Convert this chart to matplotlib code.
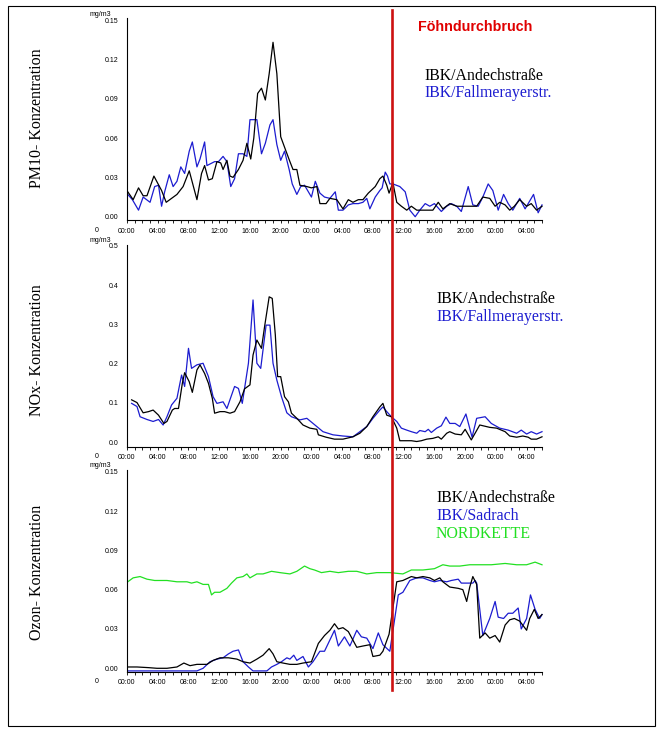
import matplotlib
matplotlib.use('Agg')
import matplotlib.pyplot as plt
import matplotlib.transforms as mtransforms
from matplotlib.patches import Rectangle
from matplotlib.lines import Line2D
import numpy as np

# time axis in hours from 00:00 of day 1
HOURS_MAX = 54
FOEHN_HOUR = 34.5

# ---- PM10 ----
pm_and_t = [0.1, 0.8, 1.5, 2.1, 2.6, 3.5, 4.5, 5.1, 5.8, 6.5, 7.3, 8.1, 9.1, 9.7, 10.1,
            10.6, 11.1, 11.7, 12.2, 12.5, 13.0, 13.4, 13.8, 14.5, 15.1, 15.6, 16.1, 16.5, 17.0, 17.5,
            18.0, 18.5, 19.0, 19.5, 20.0, 20.5, 21.2, 21.6, 22.1, 22.5, 23.4, 24.0, 24.7, 25.1, 25.9,
            26.4, 27.3, 28.1, 28.8, 29.4, 30.1, 30.7, 31.4, 32.3, 32.9, 33.3, 33.8, 34.1,
            34.6, 35.1, 35.7, 36.4, 37.0, 37.7, 38.5, 39.4, 39.8, 40.5, 41.1, 42.0, 42.9, 43.7, 44.6,
            45.5, 46.3, 47.2, 47.9, 48.5, 49.2, 49.8, 50.4, 51.1, 52.0, 52.6, 53.3, 54.0]
pm_and_v = [0.019, 0.013, 0.022, 0.016, 0.016, 0.031, 0.020, 0.011, 0.014, 0.017, 0.023, 0.035, 0.013, 0.033, 0.039,
            0.028, 0.029, 0.042, 0.041, 0.036, 0.043, 0.031, 0.030, 0.036, 0.043, 0.056, 0.044, 0.060, 0.094, 0.098,
            0.089, 0.109, 0.133, 0.109, 0.061, 0.053, 0.042, 0.036, 0.036, 0.024, 0.023, 0.022, 0.023, 0.010, 0.010,
            0.014, 0.013, 0.006, 0.013, 0.011, 0.013, 0.013, 0.018, 0.023, 0.029, 0.031, 0.024, 0.018,
            0.026, 0.011, 0.008, 0.005, 0.008, 0.005, 0.005, 0.005, 0.005, 0.011, 0.006, 0.010, 0.008, 0.008, 0.008,
            0.008, 0.015, 0.014, 0.008, 0.011, 0.009, 0.005, 0.008, 0.013, 0.008, 0.010, 0.005, 0.008]

pm_fal_t = [0.1, 0.7, 1.5, 2.1, 3.0, 3.6, 4.1, 4.5, 4.9, 5.5, 6.0, 6.5, 7.0, 7.5, 8.1,
            8.5, 9.1, 9.5, 10.1, 10.4, 11.4, 11.9, 12.5, 13.0, 13.5, 14.0, 14.5, 15.1, 15.6, 16.0,
            16.9, 17.5, 18.0, 18.6, 19.0, 19.5, 20.0, 20.5, 21.1, 21.5, 22.1, 22.6, 23.1, 23.6, 24.0,
            24.5, 25.1, 25.7, 26.4, 27.1, 27.5, 28.1, 28.8, 29.4, 30.1, 30.7, 31.2, 31.6, 32.3, 32.9,
            33.2, 33.6, 33.9, 34.2, 34.6, 35.5, 36.2, 36.8, 37.5, 38.1, 38.8, 39.4, 40.0, 40.9, 41.6,
            42.2, 42.9, 43.5, 44.4, 45.0, 45.7, 46.3, 47.0, 47.6, 48.3, 49.0, 49.6, 50.2, 51.1, 51.8,
            52.9, 53.5, 54.0]
pm_fal_v = [0.017, 0.013, 0.005, 0.015, 0.011, 0.023, 0.024, 0.008, 0.019, 0.032, 0.023, 0.027, 0.038, 0.033, 0.050,
            0.057, 0.038, 0.044, 0.057, 0.039, 0.042, 0.042, 0.046, 0.042, 0.023, 0.029, 0.048, 0.048, 0.046, 0.074,
            0.074, 0.048, 0.056, 0.070, 0.074, 0.055, 0.043, 0.050, 0.036, 0.025, 0.017, 0.023, 0.024, 0.019, 0.015,
            0.027, 0.018, 0.015, 0.014, 0.019, 0.005, 0.005, 0.009, 0.010, 0.010, 0.011, 0.014, 0.006, 0.015, 0.020,
            0.022, 0.034, 0.031, 0.025, 0.025, 0.023, 0.019, 0.005, 0.000, 0.005, 0.010, 0.008, 0.010, 0.004, 0.008,
            0.010, 0.008, 0.004, 0.023, 0.009, 0.008, 0.015, 0.025, 0.020, 0.005, 0.017, 0.010, 0.005, 0.014, 0.006,
            0.017, 0.003, 0.009]

# ---- NOx ----
nox_and_t = [0.6, 1.3, 2.1, 2.8, 3.4, 4.1, 4.8, 5.2, 5.9, 6.2, 6.7, 7.2, 7.5, 8.1, 8.5,
             9.1, 9.5, 10.1, 10.6, 11.1, 11.4, 12.1, 12.7, 13.4, 14.0, 14.7, 15.3, 16.0, 16.4, 16.9,
             17.5, 17.9, 18.5, 18.9, 19.3, 19.6, 20.0, 20.5, 21.0, 21.4, 22.1, 22.9, 23.8, 24.7, 24.9,
             25.9, 27.0, 28.1, 29.4, 30.3, 31.2, 32.0, 32.9, 33.3, 33.8, 34.4, 35.1, 35.5, 36.4, 37.0,
             37.7, 38.3, 39.0, 39.8, 40.5, 40.9, 41.6, 42.0, 42.7, 43.5, 44.0, 44.8, 45.9, 47.2, 48.1,
             49.2, 49.8, 50.7, 51.5, 52.2, 52.6, 53.3, 54.0]
nox_and_v = [0.108, 0.101, 0.075, 0.078, 0.082, 0.069, 0.048, 0.053, 0.082, 0.086, 0.086, 0.150, 0.177, 0.154, 0.127,
             0.184, 0.197, 0.175, 0.150, 0.112, 0.074, 0.078, 0.078, 0.074, 0.078, 0.103, 0.136, 0.146, 0.222, 0.260,
             0.239, 0.294, 0.370, 0.366, 0.273, 0.167, 0.167, 0.116, 0.103, 0.074, 0.061, 0.044, 0.036, 0.033, 0.019,
             0.013, 0.008, 0.008, 0.014, 0.023, 0.040, 0.065, 0.090, 0.099, 0.069, 0.065, 0.036, 0.004, 0.004, 0.004,
             0.002, 0.004, 0.008, 0.010, 0.014, 0.008, 0.023, 0.027, 0.021, 0.019, 0.033, 0.006, 0.044, 0.038, 0.036,
             0.027, 0.016, 0.013, 0.016, 0.013, 0.008, 0.008, 0.014]

nox_fal_t = [0.6, 1.3, 1.7, 2.6, 3.4, 4.1, 4.7, 5.2, 5.8, 6.5, 7.1, 7.5, 8.0, 8.4, 9.1,
             9.9, 10.6, 11.2, 11.7, 12.5, 13.0, 14.0, 14.5, 15.0, 15.8, 16.4, 16.9, 17.4, 18.1, 18.6,
             19.0, 19.5, 20.1, 20.8, 21.4, 22.5, 23.4, 24.7, 25.5, 26.8, 28.1, 29.4, 30.3, 31.2, 32.0,
             32.9, 33.3, 33.8, 34.4, 35.1, 35.7, 36.4, 37.0, 37.7, 38.1, 38.8, 39.2, 39.6, 40.3, 40.9,
             41.5, 42.0, 42.7, 43.3, 44.1, 44.9, 45.5, 46.6, 47.4, 48.5, 49.6, 50.7, 51.3, 52.0, 52.6,
             53.3, 54.0]
nox_fal_v = [0.099, 0.091, 0.065, 0.058, 0.053, 0.058, 0.044, 0.065, 0.095, 0.112, 0.171, 0.142, 0.239, 0.188, 0.197,
             0.201, 0.167, 0.116, 0.099, 0.103, 0.086, 0.142, 0.137, 0.099, 0.201, 0.362, 0.201, 0.188, 0.298, 0.298,
             0.201, 0.158, 0.116, 0.075, 0.065, 0.057, 0.061, 0.040, 0.027, 0.019, 0.016, 0.014, 0.027, 0.040, 0.061,
             0.082, 0.090, 0.078, 0.065, 0.053, 0.036, 0.031, 0.027, 0.023, 0.030, 0.027, 0.033, 0.025, 0.036, 0.042,
             0.064, 0.048, 0.048, 0.040, 0.072, 0.013, 0.061, 0.065, 0.048, 0.036, 0.031, 0.023, 0.031, 0.021, 0.027,
             0.021, 0.027]

# ---- Ozone ----
o3_nord_t = [0.1, 0.8, 1.7, 2.6, 3.6, 5.2, 6.5, 7.8, 8.4, 9.1, 9.9, 10.6, 11.0, 11.4, 12.1,
             13.0, 13.6, 14.3, 15.1, 15.6, 16.0, 16.9, 17.7, 18.8, 19.9, 21.2, 22.1, 23.1, 23.8, 24.4,
             25.3, 26.4, 27.5, 28.8, 29.9, 31.2, 32.5, 34.2, 35.9, 37.0, 38.5, 40.0, 41.1, 42.0, 43.3,
             44.6, 45.9, 47.4, 49.2, 50.7, 52.0, 53.1, 54.0]
o3_nord_v = [0.066, 0.069, 0.070, 0.068, 0.067, 0.067, 0.066, 0.066, 0.065, 0.066, 0.064, 0.064, 0.056, 0.058, 0.058,
             0.061, 0.065, 0.069, 0.070, 0.072, 0.069, 0.072, 0.072, 0.074, 0.073, 0.072, 0.074, 0.078, 0.076, 0.075,
             0.073, 0.074, 0.073, 0.074, 0.074, 0.072, 0.073, 0.073, 0.072, 0.075, 0.075, 0.076, 0.079, 0.078, 0.078,
             0.079, 0.079, 0.079, 0.080, 0.079, 0.079, 0.081, 0.079]

o3_and_t = [0.1, 1.3, 2.8, 3.9, 5.2, 6.5, 7.4, 8.2, 9.1, 10.4, 11.2, 12.1, 13.2, 14.3, 15.1,
            16.0, 16.9, 17.7, 18.5, 19.0, 19.5, 20.3, 21.2, 22.1, 22.9, 24.0, 24.9, 25.7, 26.4, 27.0,
            27.5, 28.1, 28.8, 29.9, 30.7, 31.6, 32.0, 32.9, 33.3, 34.1, 35.1, 35.9, 37.0, 37.7, 38.5,
            39.4, 40.0, 40.7, 41.1, 42.0, 43.1, 43.7, 44.2, 44.6, 45.0, 45.5, 45.9, 46.6, 47.2, 47.9,
            48.5, 49.2, 49.8, 50.4, 51.1, 52.0, 52.4, 53.0, 53.5, 54.0]
o3_and_v = [0.001, 0.001, 0.0005, 0.000, 0.000, 0.001, 0.004, 0.002, 0.003, 0.003, 0.006, 0.008, 0.008, 0.007, 0.005,
            0.004, 0.007, 0.010, 0.015, 0.011, 0.005, 0.004, 0.003, 0.003, 0.004, 0.005, 0.019, 0.025, 0.029, 0.034,
            0.030, 0.031, 0.028, 0.016, 0.017, 0.018, 0.009, 0.010, 0.013, 0.026, 0.066, 0.067, 0.070, 0.069, 0.070,
            0.069, 0.067, 0.069, 0.066, 0.062, 0.061, 0.060, 0.051, 0.062, 0.070, 0.064, 0.023, 0.027, 0.023, 0.025,
            0.020, 0.033, 0.037, 0.038, 0.036, 0.029, 0.038, 0.045, 0.038, 0.041]

o3_sad_t = [0.1, 9.1, 9.9, 10.8, 11.7, 12.5, 13.2, 13.8, 14.5, 15.1, 15.8, 16.4, 18.2, 18.8, 19.5,
            20.1, 20.8, 21.2, 21.7, 22.1, 22.9, 23.6, 24.2, 25.1, 25.7, 27.0, 27.5, 28.3, 29.0, 29.9,
            30.5, 31.2, 32.0, 32.7, 33.3, 34.2, 35.3, 35.9, 36.8, 37.7, 38.5, 39.4, 40.0, 40.7, 41.6,
            42.2, 43.1, 43.5, 45.0, 45.3, 45.5, 46.3, 47.2, 47.9, 48.3, 49.0, 49.6, 50.2, 50.9, 51.3,
            52.0, 52.5, 53.1, 53.7, 54.0]
o3_sad_v = [-0.002, -0.002, 0.000, 0.005, 0.007, 0.008, 0.011, 0.013, 0.014, 0.005, 0.001, -0.002, -0.002, 0.001, 0.003,
            0.005, 0.008, 0.007, 0.010, 0.006, 0.009, 0.001, 0.005, 0.013, 0.013, 0.029, 0.017, 0.024, 0.017, 0.029,
            0.024, 0.023, 0.015, 0.027, 0.018, 0.013, 0.056, 0.058, 0.067, 0.069, 0.069, 0.067, 0.066, 0.067, 0.066,
            0.067, 0.068, 0.065, 0.065, 0.067, 0.065, 0.025, 0.038, 0.051, 0.039, 0.038, 0.042, 0.042, 0.046, 0.030,
            0.038, 0.056, 0.045, 0.038, 0.041]

BLACK = '#000000'
BLUE = '#1c1cd0'
GREEN = '#22e022'
RED = '#cc1111'

SANS = ['Liberation Sans', 'DejaVu Sans']
SERIF = ['Liberation Serif', 'DejaVu Serif']

W, H = 661, 730
fig = plt.figure(figsize=(W / 100, H / 100), dpi=100)


def px(x, y):
    return x / W, 1 - y / H


def make_axes(top_px, bottom_px, ymin, ymax, yticks, yfmt):
    ax = fig.add_axes([127 / W, 1 - bottom_px / H, 415 / W, (bottom_px - top_px) / H])
    ax.set_xlim(0, HOURS_MAX)
    ax.set_ylim(ymin, ymax)
    for s in ['top', 'right']:
        ax.spines[s].set_visible(False)
    for s in ['left', 'bottom']:
        ax.spines[s].set_linewidth(0.8)
    ax.set_xticks(np.arange(0, HOURS_MAX, 4))
    ax.set_xticklabels(['%02d:00' % (h % 24) for h in range(0, HOURS_MAX, 4)])
    ax.set_xticks(np.arange(0, HOURS_MAX + 1, 1), minor=True)
    ax.tick_params(axis='x', which='both', direction='out', length=2.5, width=0.6, pad=3,
                   labelsize=5)
    ax.set_yticks(yticks)
    ax.set_yticklabels([yfmt % v for v in yticks])
    ax.tick_params(axis='y', length=0, pad=6.3, labelsize=5)
    for lab in ax.get_xticklabels() + ax.get_yticklabels():
        lab.set_family(SANS)
    ax.text(-0.065, 1.02, 'mg/m3', transform=ax.transAxes, fontsize=5, family=SANS,
            ha='center', va='center')
    ax.text(-0.073, -0.05, '0', transform=ax.transAxes, fontsize=5, family=SANS,
            ha='center', va='center')
    return ax


ax1 = make_axes(18.3, 220, -0.0025, 0.1513, [0, 0.03, 0.06, 0.09, 0.12, 0.15], '%.2f')
ax2 = make_axes(245, 446.7, -0.0112, 0.5018, [0, 0.1, 0.2, 0.3, 0.4, 0.5], '%.1f')
ax3 = make_axes(470, 671.7, -0.0026, 0.1513, [0, 0.03, 0.06, 0.09, 0.12, 0.15], '%.2f')

lw = 0.9
ax1.plot(pm_fal_t, pm_fal_v, color=BLUE, lw=lw, clip_on=False)
ax1.plot(pm_and_t, pm_and_v, color=BLACK, lw=lw, clip_on=False)

ax2.plot(nox_fal_t, nox_fal_v, color=BLUE, lw=lw, clip_on=False)
ax2.plot(nox_and_t, nox_and_v, color=BLACK, lw=lw, clip_on=False)

ax3.plot(o3_nord_t, o3_nord_v, color=GREEN, lw=lw, clip_on=False)
ax3.plot(o3_sad_t, o3_sad_v, color=BLUE, lw=lw, clip_on=False)
ax3.plot(o3_and_t, o3_and_v, color=BLACK, lw=lw, clip_on=False)

# vertical red line marking the foehn breakthrough
trans = mtransforms.blended_transform_factory(ax3.transData, fig.transFigure)
fig.add_artist(Line2D([FOEHN_HOUR, FOEHN_HOUR], [1 - 10 / H, 1 - 690 / H], transform=trans,
                      color=RED, lw=1.9, zorder=10))
fig.text(*px(475, 27), 'Föhndurchbruch', color='#e00000', fontsize=10.3, fontweight='bold',
         family=SANS, ha='center', va='center')

# legends as plain text
leg = 11.4
fig.text(*px(424, 76), 'IBK/Andechstraße', color=BLACK, fontsize=leg, family=SERIF, va='center')
fig.text(*px(424, 93), 'IBK/Fallmerayerstr.', color=BLUE, fontsize=leg, family=SERIF, va='center')
fig.text(*px(436, 299), 'IBK/Andechstraße', color=BLACK, fontsize=leg, family=SERIF, va='center')
fig.text(*px(436, 317), 'IBK/Fallmerayerstr.', color=BLUE, fontsize=leg, family=SERIF, va='center')
fig.text(*px(436, 498), 'IBK/Andechstraße', color=BLACK, fontsize=leg, family=SERIF, va='center')
fig.text(*px(436, 516), 'IBK/Sadrach', color=BLUE, fontsize=leg, family=SERIF, va='center')
fig.text(*px(436, 534), 'NORDKETTE', color=GREEN, fontsize=leg, family=SERIF, va='center')

# rotated panel titles
fig.text(*px(37, 118), 'PM10- Konzentration', rotation=90, fontsize=11.5, family=SERIF,
         ha='center', va='center')
fig.text(*px(37, 350), 'NOx- Konzentration', rotation=90, fontsize=11.5, family=SERIF,
         ha='center', va='center')
fig.text(*px(37, 572), 'Ozon- Konzentration', rotation=90, fontsize=11.5, family=SERIF,
         ha='center', va='center')

# outer frame
fig.add_artist(Rectangle(px(8, 726), 647 / W, 720 / H, transform=fig.transFigure,
                         fill=False, edgecolor='black', lw=0.8))

fig.savefig('out.png', dpi=100)
